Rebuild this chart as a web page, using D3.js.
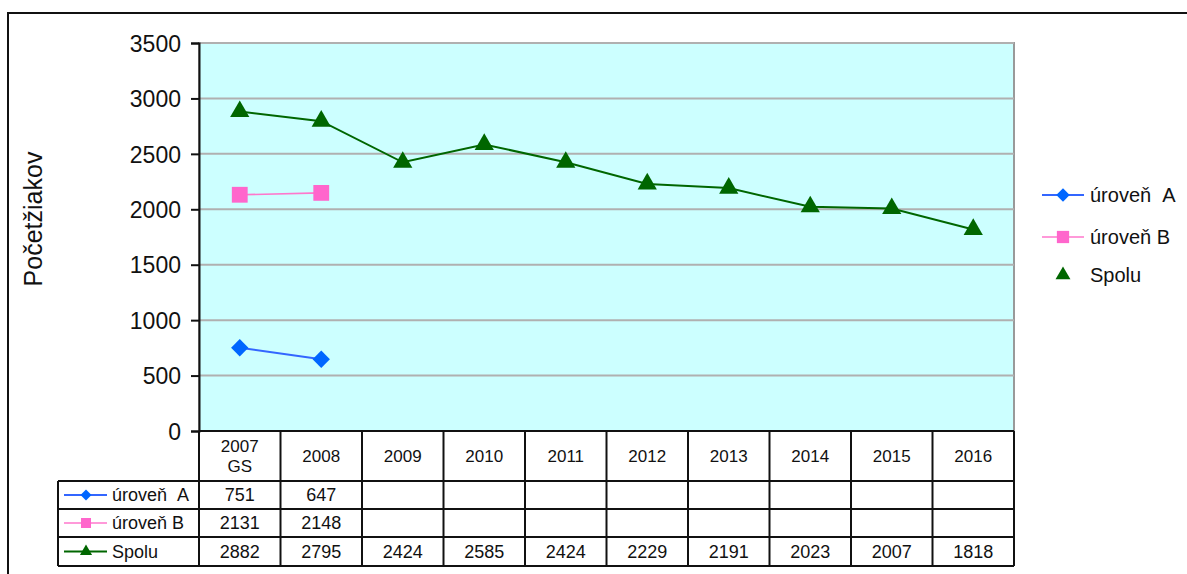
<!DOCTYPE html>
<html>
<head>
<meta charset="utf-8">
<script src="https://cdn.jsdelivr.net/npm/d3@7/dist/d3.min.js"></script>
<style>
  html, body { margin: 0; padding: 0; background: #fff; }
  svg { display: block; font-family: "Liberation Sans", Arial, sans-serif; }
</style>
</head>
<body>
<script>
// Chart data
const categories = ["2007\nGS", "2008", "2009", "2010", "2011", "2012", "2013", "2014", "2015", "2016"];
const urovenA = [751, 647, null, null, null, null, null, null, null, null];
const urovenB = [2131, 2148, null, null, null, null, null, null, null, null];
const spolu = [2882, 2795, 2424, 2585, 2424, 2229, 2191, 2023, 2007, 1818];
const yTicks = [0, 500, 1000, 1500, 2000, 2500, 3000, 3500];

// diamond = square turned 45 degrees
const series = [
  { name: "úroveň\u00a0\u00a0A", values: urovenA, color: "#3366ff", marker: "#0066ff", symbol: d3.symbolSquare, rot: 45, size: 150, lineW: 2, legendLine: true },
  { name: "úroveň B", values: urovenB, color: "#ff77cc", marker: "#ff66cc", symbol: d3.symbolSquare, rot: 0, size: 250, lineW: 1.6, legendLine: true },
  { name: "Spolu", values: spolu, color: "#006600", marker: "#006600", symbol: d3.symbolTriangle, rot: 0, size: 160, lineW: 2, legendLine: false }
];

const W = 1187, H = 574;
const plot = { left: 199, right: 1014, top: 43, bottom: 431 };
const tableRows = [481, 509, 537, 566]; // bottom edges of header + 3 data rows
const tableLeft = 58;

const svg = d3.select("body").append("svg").attr("width", W).attr("height", H);

// outer frame
svg.append("rect").attr("x", 8).attr("y", 13).attr("width", 1300).attr("height", 700)
  .attr("fill", "none").attr("stroke", "#111").attr("stroke-width", 2);

const x = d3.scaleBand().domain(categories).range([plot.left, plot.right]);
const y = d3.scaleLinear().domain([0, 3500]).range([plot.bottom, plot.top]);

// plot background
svg.append("rect").attr("x", plot.left).attr("y", plot.top)
  .attr("width", plot.right - plot.left).attr("height", plot.bottom - plot.top)
  .attr("fill", "#ccffff").attr("stroke", "#999").attr("stroke-width", 2);

// gridlines
svg.append("g").selectAll("line").data(yTicks.filter(d => d > 0)).join("line")
  .attr("x1", plot.left).attr("x2", plot.right)
  .attr("y1", d => y(d)).attr("y2", d => y(d))
  .attr("stroke", "#b0b0b0").attr("stroke-width", 2);

// y axis
const yAxis = svg.append("g").attr("transform", `translate(${plot.left},0)`)
  .call(d3.axisLeft(y).tickValues(yTicks).tickSize(8).tickPadding(10).tickFormat(d3.format("d")));
yAxis.select(".domain").attr("stroke", "#111").attr("stroke-width", 2);
yAxis.selectAll(".tick line").attr("stroke", "#111").attr("stroke-width", 2);
yAxis.selectAll(".tick text").attr("fill", "#111").attr("font-size", 23)
  .attr("font-family", "Liberation Sans, Arial, sans-serif").attr("dy", "0.36em");

// y title
svg.append("text").attr("transform", `translate(42,219) rotate(-90)`)
  .attr("text-anchor", "middle").attr("font-size", 25).attr("fill", "#111").text("Početžiakov");

// series lines + markers
const cx = d => x(d) + x.bandwidth() / 2;
series.forEach(s => {
  const pts = categories.map((c, i) => ({ c, v: s.values[i] })).filter(p => p.v != null);
  const line = d3.line().x(p => cx(p.c)).y(p => y(p.v));
  svg.append("path").datum(pts).attr("d", line).attr("fill", "none")
    .attr("stroke", s.color).attr("stroke-width", s.lineW);
  svg.append("g").selectAll("path").data(pts).join("path")
    .attr("transform", p => `translate(${cx(p.c)},${y(p.v)}) rotate(${s.rot})`)
    .attr("d", d3.symbol(s.symbol, s.size)).attr("fill", s.marker);
});

// data table
const tg = svg.append("g");
const lineStyle = sel => sel.attr("stroke", "#111").attr("stroke-width", 2);
tableRows.forEach(ry => {
  tg.append("line").attr("x1", tableLeft).attr("x2", plot.right)
    .attr("y1", ry).attr("y2", ry).call(lineStyle);
});
tg.append("line").attr("x1", plot.left).attr("x2", plot.right)
  .attr("y1", plot.bottom).attr("y2", plot.bottom).call(lineStyle);
const vx = categories.map(c => x(c)).concat([plot.right]);
vx.forEach(v => tg.append("line").attr("x1", v).attr("x2", v)
  .attr("y1", plot.bottom).attr("y2", tableRows[3]).call(lineStyle));
tg.append("line").attr("x1", tableLeft).attr("x2", tableLeft)
  .attr("y1", tableRows[0]).attr("y2", tableRows[3]).call(lineStyle);

// header labels
categories.forEach(c => {
  const parts = c.split("\n");
  const t = tg.append("text").attr("x", cx(c)).attr("text-anchor", "middle")
    .attr("font-size", 17).attr("fill", "#111");
  const mid = (plot.bottom + tableRows[0]) / 2;
  parts.forEach((p, j) => {
    t.append("tspan").attr("x", cx(c))
      .attr("y", mid + 6 + (j - (parts.length - 1) / 2) * 20).text(p);
  });
});

// row labels and values
series.forEach((s, i) => {
  const top = tableRows[i], bot = tableRows[i + 1];
  const my = (top + bot) / 2;
  tg.append("line").attr("x1", 64).attr("x2", 107).attr("y1", my).attr("y2", my)
    .attr("stroke", s.color).attr("stroke-width", s.lineW);
  tg.append("path").attr("transform", `translate(86,${my}) rotate(${s.rot})`)
    .attr("d", d3.symbol(s.symbol, s.size * 0.4)).attr("fill", s.marker);
  tg.append("text").attr("x", 112).attr("y", my + 6).attr("font-size", 18)
    .attr("fill", "#111").text(s.name);
  categories.forEach((c, k) => {
    if (s.values[k] == null) return;
    tg.append("text").attr("x", cx(c)).attr("y", my + 6).attr("text-anchor", "middle")
      .attr("font-size", 18).attr("fill", "#111").text(s.values[k]);
  });
});

// legend
const lg = svg.append("g");
const legendY = [195, 237, 275];
series.forEach((s, i) => {
  const ly = legendY[i];
  if (s.legendLine) {
    lg.append("line").attr("x1", 1042).attr("x2", 1084).attr("y1", ly).attr("y2", ly)
      .attr("stroke", s.color).attr("stroke-width", s.lineW);
  }
  lg.append("path").attr("transform", `translate(1063,${ly}) rotate(${s.rot})`)
    .attr("d", d3.symbol(s.symbol, s.size * 0.6)).attr("fill", s.marker);
  lg.append("text").attr("x", 1090).attr("y", ly + 7).attr("font-size", 20)
    .attr("fill", "#111").text(s.name);
});
</script>
</body>
</html>
